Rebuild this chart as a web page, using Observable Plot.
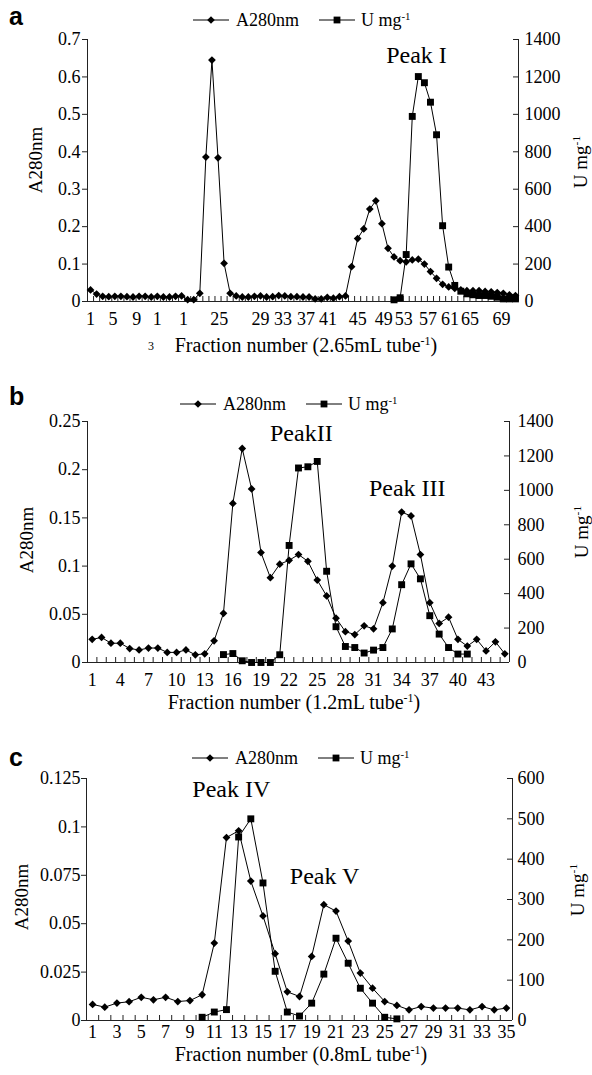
<!DOCTYPE html>
<html><head><meta charset="utf-8">
<script src="https://cdn.jsdelivr.net/npm/d3@7"></script>
<script src="https://cdn.jsdelivr.net/npm/@observablehq/plot@0.6"></script>
<style>
html,body{margin:0;padding:0;background:#fff;}
#root{position:relative;width:592px;height:1075px;overflow:hidden;font-family:"Liberation Serif","Times New Roman",serif;color:#000;}
.abs{position:absolute;white-space:nowrap;line-height:1;}
.panelsvg{position:absolute;left:0;}
.letter{font-family:"Liberation Sans",Arial,sans-serif;font-weight:bold;font-size:25px;}
.legend{display:flex;align-items:center;font-size:18px;height:18px;}
.sup{font-size:0.6em;position:relative;top:-0.6em;}
</style></head><body><div id="root"></div>
<script>
// ---------- Panel a (2.65 mL fractions) ----------
const aA280 = [0.031,0.020,0.014,0.013,0.014,0.014,0.013,0.012,0.014,0.014,
  0.012,0.014,0.012,0.012,0.014,0.015,0.005,0.005,0.022,0.386,
  0.645,0.384,0.102,0.022,0.015,0.012,0.012,0.014,0.015,0.012,
  0.013,0.016,0.015,0.013,0.013,0.012,0.012,0.007,0.007,0.011,
  0.009,0.013,0.015,0.093,0.168,0.194,0.247,0.269,0.208,0.142,
  0.119,0.109,0.106,0.111,0.113,0.100,0.080,0.062,0.046,0.039,
  0.035,0.031,0.029,0.029,0.029,0.027,0.026,0.024,0.022,0.018,0.016];
const aUStart = 51;
const aU = [9,20,251,989,1202,1169,1065,891,405,184,86,55,41,36,32,32,28,23,14,14,14];
const aLeftTicks = [0,0.1,0.2,0.3,0.4,0.5,0.6,0.7];
const aLeftLabels = ["0","0.1","0.2","0.3","0.4","0.5","0.6","0.7"];
const aRightTicks = [0,200,400,600,800,1000,1200,1400];
const aXLabelPos = [1,4.7,8.6,12.0,16.3,22.2,29.0,32.7,36.5,40.1,45.0,49.3,52.6,56.6,60.2,63.5,68.7];
const aXLabelText = ["1","5","9","1","1","25","29","33","37","41","45","49","53","57","61","65","69"];
const aPeaks = [{label:"Peak I", tube:54.7, a:0.659}];

// ---------- Panel b (1.2 mL fractions) ----------
const bA280 = [0.024,0.026,0.020,0.020,0.0145,0.013,0.015,0.015,0.0105,0.0105,
  0.013,0.008,0.009,0.0225,0.051,0.165,0.222,0.180,0.114,0.088,
  0.102,0.106,0.112,0.105,0.0855,0.069,0.046,0.032,0.029,0.038,
  0.035,0.062,0.100,0.156,0.152,0.112,0.062,0.0405,0.047,0.024,
  0.017,0.024,0.012,0.0215,0.009];
const bUStart = 15;
const bU = [46,52,10,0,0,0,45,680,1130,1137,1168,530,208,93,87,55,72,87,195,452,573,486,272,165,87,49,49];
const bLeftTicks = [0,0.05,0.1,0.15,0.2,0.25];
const bLeftLabels = ["0","0.05","0.1","0.15","0.2","0.25"];
const bRightTicks = [0,200,400,600,800,1000,1200,1400];
const bXLabelPos = [1,4,7,10,13,16,19,22,25,28,31,34,37,40,43];
const bXLabelText = ["1","4","7","10","13","16","19","22","25","28","31","34","37","40","43"];
const bPeaks = [{label:"PeakII", tube:23.3, a:0.238},{label:"Peak III", tube:34.6, a:0.181}];

// ---------- Panel c (0.8 mL fractions) ----------
const cA280 = [0.0083,0.0069,0.009,0.0097,0.012,0.0107,0.012,0.0098,0.0103,0.0133,
  0.040,0.0945,0.098,0.072,0.054,0.0345,0.0148,0.0124,0.0331,0.0598,
  0.0565,0.041,0.0245,0.0167,0.0098,0.0078,0.0055,0.0072,0.0064,0.0064,
  0.0064,0.0055,0.0072,0.0055,0.0064];
const cUStart = 10;
const cU = [8,21,27,455,500,341,122,21,11,43,115,204,142,80,43,8,4];
const cLeftTicks = [0,0.025,0.05,0.075,0.1,0.125];
const cLeftLabels = ["0","0.025","0.05","0.075","0.1","0.125"];
const cRightTicks = [0,100,200,300,400,500,600];
const cXLabelPos = [1,3,5,7,9,11,13,15,17,19,21,23,25,27,29,31,33,35];
const cXLabelText = ["1","3","5","7","9","11","13","15","17","19","21","23","25","27","29","31","33","35"];
const cPeaks = [{label:"Peak IV", tube:12.4, a:0.1192},{label:"Peak V", tube:20.06, a:0.0747}];

const seriesNames = ["A280nm", "U mg-1"];

const FONT = '"Liberation Serif","Times New Roman",serif';
const AX = "#222";

function makePanel(cfg) {
  const N = cfg.A.length;
  const k = cfg.yMax / cfg.uMax;
  const aData = cfg.A.map((v, i) => ({tube: i + 1, v}));
  const uData = cfg.U.map((v, i) => ({tube: cfg.uStart + i, v: v * k}));
  const innerW = cfg.width - cfg.mL - cfg.mR;
  const innerH = cfg.height - cfg.mT - cfg.mB;
  const x0 = 0.5, x1 = N + 0.5;
  const mids = d3.range(N + 1).map(i => x0 + i);
  const rTicks = cfg.rightTicks.map(d => d * k);
  const leftMap = new Map(cfg.leftTicks.map((d, i) => [d, cfg.leftLabels[i]]));
  const rightMap = new Map(rTicks.map((d, i) => [d, String(cfg.rightTicks[i])]));
  const xMap = new Map(cfg.xPos.map((d, i) => [d, cfg.xText[i]]));
  return Plot.plot({
    width: cfg.width, height: cfg.height,
    marginLeft: cfg.mL, marginRight: cfg.mR, marginTop: cfg.mT, marginBottom: cfg.mB,
    x: {domain: [x0, x1]},
    y: {domain: [0, cfg.yMax]},
    style: {fontFamily: FONT, fontSize: "18px", color: "#000", background: "transparent", overflow: "visible"},
    marks: [
      Plot.ruleX([x0, x1], {x: d => d, stroke: AX, strokeWidth: 1}),
      Plot.ruleY([0], {y: d => d, stroke: AX, strokeWidth: 1}),
      Plot.tickX(mids, {x: d => d, insetTop: innerH - 5, stroke: AX}),
      Plot.tickY(rTicks, {y: d => d, insetLeft: innerW - 5, stroke: AX}),
      Plot.axisY(cfg.leftTicks, {anchor: "left", tickSize: 5, tickPadding: cfg.lPad, stroke: AX, tickFormat: d => leftMap.get(d), label: null}),
      Plot.axisY(rTicks, {anchor: "right", tickSize: 0, tickPadding: cfg.rPad, tickFormat: d => rightMap.get(d), label: null}),
      Plot.axisX(cfg.xPos, {anchor: "bottom", tickSize: 0, tickPadding: cfg.xPad, tickFormat: d => xMap.get(d), label: null}),
      Plot.line(aData, {x: "tube", y: "v", stroke: "#000", strokeWidth: 1}),
      Plot.line(uData, {x: "tube", y: "v", stroke: "#000", strokeWidth: 1}),
      Plot.dot(aData, {x: "tube", y: "v", symbol: "diamond2", r: 3.5, fill: "#000", stroke: "none"}),
      Plot.dot(uData, {x: "tube", y: "v", symbol: "square", r: 3.9, fill: "#000", stroke: "none"}),
      Plot.text(cfg.peaks, {x: "tube", y: "a", text: "label", fontSize: 24, fontFamily: FONT, lineAnchor: "middle", fill: "#000"})
    ]
  });
}

const root = document.getElementById("root");

function addAbs(html, css, cls) {
  const d = document.createElement("div");
  d.className = "abs " + (cls || "");
  d.innerHTML = html;
  Object.assign(d.style, css);
  root.appendChild(d);
  return d;
}

function markerSVG(sym) {
  const shape = sym === "diamond"
    ? '<path d="M18,2.2 L21.8,6 L18,9.8 L14.2,6 Z" fill="#000"/>'
    : '<rect x="14.6" y="2.6" width="6.8" height="6.8" fill="#000"/>';
  return '<svg width="36" height="12" style="display:block"><line x1="0" y1="6" x2="36" y2="6" stroke="#000" stroke-width="1"/>' + shape + '</svg>';
}

function legendHTML() {
  return markerSVG("diamond") + '<span style="margin-left:7px">' + seriesNames[0] + '</span>' +
    '<span style="display:inline-block;width:20px"></span>' + markerSVG("square") +
    '<span style="margin-left:6px">U mg<span class="sup">-1</span></span>';
}

const panels = [
  {letter: "a", top: 0, letterTop: 4, legendLeft: 193, legendCy: 20,
   cfg: {A: aA280, U: aU, uStart: aUStart, yMax: 0.7, uMax: 1400, leftTicks: aLeftTicks, leftLabels: aLeftLabels,
         rightTicks: aRightTicks, xPos: aXLabelPos, xText: aXLabelText, peaks: aPeaks,
         width: 592, height: 360, mL: 87, mR: 74, mT: 39, mB: 59, lPad: 2, rPad: 6, xPad: 11},
   xTitle: "Fraction number (2.65mL tube", xCx: 306, xBase: 352,
   yL: [35, 160], yR: [580, 162]},
  {letter: "b", top: 380, letterTop: 384, legendLeft: 180, legendCy: 404,
   cfg: {A: bA280, U: bU, uStart: bUStart, yMax: 0.25, uMax: 1400, leftTicks: bLeftTicks, leftLabels: bLeftLabels,
         rightTicks: bRightTicks, xPos: bXLabelPos, xText: bXLabelText, peaks: bPeaks,
         width: 592, height: 330, mL: 87, mR: 83, mT: 41, mB: 48, lPad: 2, rPad: 8, xPad: 11},
   xTitle: "Fraction number (1.2mL tube", xCx: 294, xBase: 709,
   yL: [26, 540], yR: [581, 532]},
  {letter: "c", top: 740, letterTop: 745, legendLeft: 192, legendCy: 758,
   cfg: {A: cA280, U: cU, uStart: cUStart, yMax: 0.125, uMax: 600, leftTicks: cLeftTicks, leftLabels: cLeftLabels,
         rightTicks: cRightTicks, xPos: cXLabelPos, xText: cXLabelText, peaks: cPeaks,
         width: 592, height: 335, mL: 86, mR: 80, mT: 38, mB: 55, lPad: 1, rPad: 5, xPad: 5},
   xTitle: "Fraction number (0.8mL tube", xCx: 301, xBase: 1061,
   yL: [21, 897], yR: [577, 890]}
];

for (const p of panels) {
  const svg = makePanel(p.cfg);
  svg.classList.add("panelsvg");
  svg.style.top = p.top + "px";
  root.appendChild(svg);
  addAbs(p.letter, {left: "9px", top: p.letterTop + "px"}, "letter");
  addAbs(legendHTML(), {left: p.legendLeft + "px", top: (p.legendCy - 9) + "px"}, "legend");
  addAbs(p.xTitle + '<span class="sup">-1</span>)', {left: p.xCx + "px", top: (p.xBase - 16.75) + "px", fontSize: "20px", transform: "translateX(-50%)"});
  addAbs(seriesNames[0], {left: p.yL[0] + "px", top: p.yL[1] + "px", fontSize: "19px", transform: "translate(-50%,-50%) rotate(-90deg)"});
  addAbs('U mg<span class="sup">-1</span>', {left: p.yR[0] + "px", top: p.yR[1] + "px", fontSize: "19px", transform: "translate(-50%,-50%) rotate(-90deg)"});
}
// stray glyph under panel a's axis in the original
addAbs("3", {left: "148px", top: "340px", fontSize: "12px"});
</script>
</body></html>
